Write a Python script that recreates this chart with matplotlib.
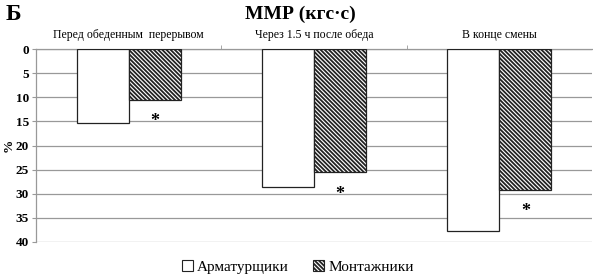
import matplotlib
matplotlib.use("Agg")
import matplotlib.pyplot as plt
import numpy as np
from matplotlib.patches import Patch

categories = ["Перед обеденным  перерывом", "Через 1.5 ч после обеда", "В конце смены"]
armat = [15.3, 28.6, 37.7]
montazh = [10.5, 25.5, 29.2]
series_names = ["Арматурщики", "Монтажники"]
yticks = [0, 5, 10, 15, 20, 25, 30, 35, 40]

plt.rcParams['font.family'] = ['Liberation Serif', 'DejaVu Serif']
plt.rcParams['hatch.linewidth'] = 1.3

HATCH = '\\' * 8

fig = plt.figure(figsize=(5.93, 2.78), dpi=100)
ax = fig.add_axes([36/593, 1-242/278, 1-36/593-1/593, (242-49)/278])

x = np.arange(len(categories))
w = 0.28
ax.bar(x - w/2, armat, width=w, color='white', edgecolor='#222222', linewidth=0.9, zorder=3)
ax.bar(x + w/2, montazh, width=w, color='white', edgecolor='#222222', linewidth=0.9,
       hatch=HATCH, zorder=3)

for xi, v in zip(x, montazh):
    ax.text(xi + w/2, v + 2.8, "*", ha='center', va='top', fontsize=13, fontweight='bold', zorder=4)

ax.set_ylim(40, 0)
ax.set_xlim(-0.5, 2.5)
ax.set_yticks(yticks)
ax.set_yticklabels([str(t) for t in yticks], fontsize=9.5, fontweight='bold')
ax.yaxis.grid(True, color='#999999', linewidth=0.9, zorder=0)
ax.xaxis.tick_top()
ax.set_xticks(x)
ax.set_xticklabels(categories, fontsize=8.5)
ax.tick_params(axis='x', length=0, pad=6)
ax.set_xticks([0.5, 1.5], minor=True)
ax.tick_params(axis='x', which='minor', length=3, color='#999999', top=True, bottom=False)
ax.tick_params(axis='y', length=3, color='#999999', pad=2)
for s in ['right', 'bottom']:
    ax.spines[s].set_visible(False)
for s in ['left', 'top']:
    ax.spines[s].set_color('#999999')
    ax.spines[s].set_linewidth(0.9)
ax.set_ylabel('%', fontsize=9.5, fontweight='bold', labelpad=1)

fig.text(300/593, 1-14/278, "ММР (кгс·с)", ha='center', va='center', fontsize=14, fontweight='bold')
fig.text(13/593, 1-15/278, "Б", ha='center', va='center', fontsize=17, fontweight='bold')

handles = [Patch(facecolor='white', edgecolor='#222222', linewidth=0.8),
           Patch(facecolor='white', edgecolor='#222222', linewidth=0.8, hatch=HATCH)]
fig.legend(handles, series_names, loc='center', bbox_to_anchor=(298/593, 1-267/278), ncol=2,
           frameon=False, fontsize=11, handlelength=0.7, handleheight=0.7, handletextpad=0.3,
           columnspacing=1.6)

fig.savefig("out.png", dpi=100)
